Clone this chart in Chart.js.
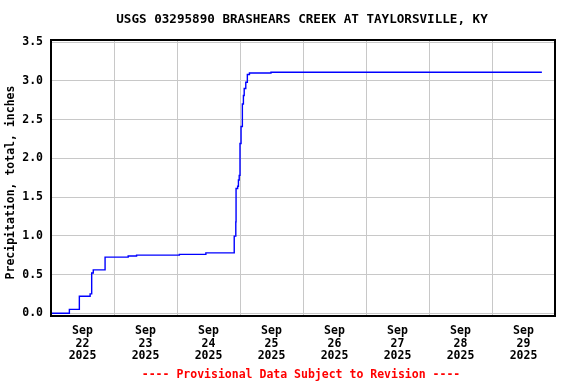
<!DOCTYPE html>
<html>
<head>
<meta charset="utf-8">
<script src="https://cdn.jsdelivr.net/npm/chart.js@4.4.1/dist/chart.umd.min.js"></script>
<style>
    html, body { margin: 0; padding: 0; background: #fff; }
    #wrap { width: 576px; height: 384px; }
</style>
</head>
<body>
<div id="wrap"><canvas id="precipChart" width="576" height="384"></canvas></div>
<script>
// hours since Sep 22 2025 00:00 and cumulative precipitation (inches)
const hours = [0.3, 7.0, 10.8, 14.9, 15.5, 16.1, 20.6, 29.4, 32.6, 48.9, 59.0,
    69.8, 70.4, 70.5, 71.1, 71.4, 71.7, 72.0, 72.4, 72.9, 73.3, 73.6, 74.2,
    74.8, 75.6, 83.8, 187.0];
const precip = [0.00, 0.05, 0.22, 0.25, 0.52, 0.56, 0.725, 0.74, 0.75, 0.76, 0.78,
    0.995, 1.18, 1.61, 1.64, 1.72, 1.78, 2.19, 2.41, 2.70, 2.81, 2.90, 2.98,
    3.08, 3.10, 3.11, 3.11];

const dayLabels = ['22', '23', '24', '25', '26', '27', '28', '29'];
const monthLabel = 'Sep';
const yearLabel = '2025';
const yTicks = [0.0, 0.5, 1.0, 1.5, 2.0, 2.5, 3.0, 3.5];

const titleText = 'USGS 03295890 BRASHEARS CREEK AT TAYLORSVILLE, KY';
const yAxisText = 'Precipitation, total, inches';
const footerText = '---- Provisional Data Subject to Revision ----';

const FONT = '"DejaVu Sans Mono", monospace';

// title, y label, footer and the frame round the plot
const textPlugin = {
    id: 'usgsText',
    afterDraw(chart) {
        const ctx = chart.ctx;
        const area = chart.chartArea;
        ctx.save();
        ctx.strokeStyle = '#000';
        ctx.lineWidth = 2;
        ctx.strokeRect(area.left, area.top, area.right - area.left, area.bottom - area.top);

        ctx.fillStyle = '#000';
        ctx.textAlign = 'center';
        ctx.textBaseline = 'middle';
        ctx.font = 'bold 12.6px ' + FONT;
        ctx.fillText(titleText, 302, 20);

        ctx.font = 'bold 11.5px ' + FONT;
        ctx.save();
        ctx.translate(11.5, 182.5);
        ctx.rotate(-Math.PI / 2);
        ctx.fillText(yAxisText, 0, 0);
        ctx.restore();

        ctx.fillStyle = '#ff0000';
        ctx.fillText(footerText, 301, 375);
        ctx.restore();
    }
};

document.addEventListener('DOMContentLoaded', function(){
    const ctx = document.getElementById('precipChart');
    const chart = new Chart(ctx, {
        type: 'line',
        data: {
            datasets: [{
                data: hours.map((h, i) => ({ x: h, y: precip[i] })),
                borderColor: '#0000ff',
                borderWidth: 1.4,
                pointRadius: 0,
                // hold the old value, then rise at the new point
                stepped: 'before',
                fill: false
            }]
        },
        options: {
            responsive: false,
            animation: false,
            layout: { padding: { top: 40, right: 21, left: 0, bottom: 0 } },
            plugins: {
                legend: { display: false },
                tooltip: { enabled: false }
            },
            scales: {
                x: {
                    type: 'linear',
                    min: 0,
                    max: 192,
                    afterBuildTicks: axis => {
                        axis.ticks = dayLabels.map((d, i) => ({ value: i * 24 })).concat([{ value: 192 }]);
                    },
                    afterFit: axis => { axis.height = 0; },
                    ticks: { display: false },
                    grid: { color: '#c8c8c8', lineWidth: 1, drawTicks: false },
                    border: { display: false }
                },
                xl: {
                    type: 'linear',
                    position: 'bottom',
                    min: 0,
                    max: 192,
                    afterBuildTicks: axis => {
                        axis.ticks = dayLabels.map((d, i) => ({ value: 12 + i * 24 }));
                    },
                    afterFit: axis => { axis.height = 68; },
                    grid: { display: false, drawTicks: false },
                    border: { display: false },
                    ticks: {
                        autoSkip: false,
                        maxRotation: 0,
                        padding: 9,
                        color: '#000',
                        font: { family: FONT, size: 11.5, weight: 'bold', lineHeight: 1.09 },
                        callback: (value, index) => [monthLabel, dayLabels[index], yearLabel]
                    }
                },
                y: {
                    min: -0.035,
                    max: 3.526,
                    afterBuildTicks: axis => {
                        axis.ticks = yTicks.map(v => ({ value: v }));
                    },
                    afterFit: axis => { axis.width = 51; },
                    grid: { color: '#c8c8c8', lineWidth: 1, drawTicks: false },
                    border: { display: false },
                    ticks: {
                        padding: 8,
                        color: '#000',
                        font: { family: FONT, size: 11.5, weight: 'bold' },
                        callback: value => value.toFixed(1)
                    }
                }
            }
        },
        plugins: [textPlugin]
    });
});
</script>
</body>
</html>
